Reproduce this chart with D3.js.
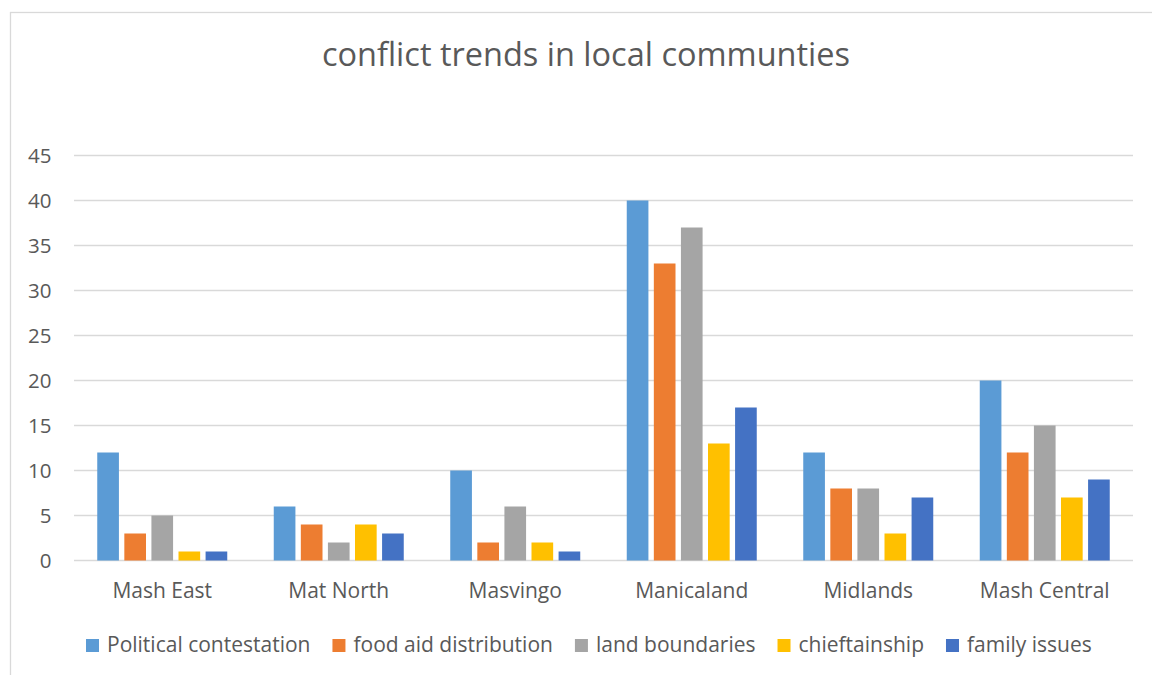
<!DOCTYPE html>
<html lang="en">
<head>
  <meta charset="UTF-8">
  <title>conflict trends</title>
  <script src="https://d3js.org/d3.v7.min.js"></script>
  <style>
    body { margin: 0; background: #fff; }
    text { font-family: "Open Sans", "Noto Sans", sans-serif; fill: #595959; }
  </style>
</head>
<body>
<div class="main"></div>
<script>
  // data
  var regions = ["Mash East", "Mat North", "Masvingo", "Manicaland", "Midlands", "Mash Central"];
  var seriesNames = ["Political contestation", "food aid distribution", "land boundaries", "chieftainship", "family issues"];
  var seriesColors = ["#5B9BD5", "#ED7D31", "#A5A5A5", "#FFC000", "#4472C4"];
  var political = [12, 6, 10, 40, 12, 20];
  var foodAid = [3, 4, 2, 33, 8, 12];
  var landBoundaries = [5, 2, 6, 37, 8, 15];
  var chieftainship = [1, 4, 2, 13, 3, 7];
  var familyIssues = [1, 3, 1, 17, 7, 9];
  var yTicks = [0, 5, 10, 15, 20, 25, 30, 35, 40, 45];

  var allSeries = [political, foodAid, landBoundaries, chieftainship, familyIssues];

  let width = 1152;
  let height = 675;
  let svg = d3.select(".main").append("svg").attr("width", width).attr("height", height).style("display", "block");

  // chart frame (runs off the right and bottom edges)
  svg.append("rect").attr("x", 10.5).attr("y", 12.5).attr("width", 1160).attr("height", 700)
    .style("fill", "none").style("stroke", "#d9d9d9").style("stroke-width", "1.3");

  // title
  svg.append("text").attr("x", 586).attr("y", 66).attr("text-anchor", "middle")
    .style("font-size", "32.5px").text("conflict trends in local communties");

  let x0 = d3.scaleBand().domain(regions).range([74, 1133]);
  let x1 = d3.scaleBand().domain(d3.range(seriesNames.length))
    .range([23.25, x0.bandwidth() - 23.25]).paddingInner(0.2);
  let y = d3.scaleLinear().domain([0, 45]).range([560.5, 155.5]);

  // gridlines
  svg.append("g").selectAll("line").data(yTicks).join("line")
    .attr("x1", 74).attr("x2", 1133)
    .attr("y1", d => y(d)).attr("y2", d => y(d))
    .style("stroke", "#d9d9d9").style("stroke-width", "1.5");

  // y labels
  svg.append("g").selectAll("text").data(yTicks).join("text")
    .attr("x", 51.5).attr("y", d => y(d)).attr("dy", "0.36em").attr("text-anchor", "end")
    .style("font-size", "20.5px").text(d => d);

  // bars
  let groups = svg.append("g").selectAll("g").data(regions).join("g")
    .attr("transform", d => `translate(${x0(d)},0)`);
  groups.selectAll("rect").data((d, i) => allSeries.map((s, j) => ({ s: j, v: s[i] }))).join("rect")
    .attr("x", d => x1(d.s)).attr("width", x1.bandwidth())
    .attr("y", d => y(d.v)).attr("height", d => y(0) - y(d.v))
    .style("fill", d => seriesColors[d.s]);

  // x labels
  svg.append("g").selectAll("text").data(regions).join("text")
    .attr("x", d => x0(d) + x0.bandwidth() / 2).attr("y", 598).attr("text-anchor", "middle")
    .style("font-size", "21px").text(d => d);

  // legend
  let lx = 86;
  seriesNames.forEach(function(name, i) {
    svg.append("rect").attr("x", lx).attr("y", 639).attr("width", 13).attr("height", 13).style("fill", seriesColors[i]);
    let t = svg.append("text").attr("x", lx + 21).attr("y", 652).style("font-size", "21px").text(name);
    lx += 21 + t.node().getComputedTextLength() + 22;
  });
</script>
</body>
</html>
